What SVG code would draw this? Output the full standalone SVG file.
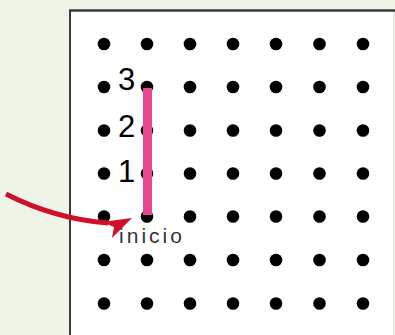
<svg xmlns="http://www.w3.org/2000/svg" width="395" height="335" viewBox="0 0 395 335">
<style>
.dot{fill:#000}
.num{font-family:"Liberation Sans",Arial,sans-serif;font-size:31px;fill:#000}
.lbl{font-family:"Liberation Sans",Arial,sans-serif;font-size:21px;fill:#333}
</style>
<rect x="0" y="0" width="395" height="335" fill="#eff4e8"/>
<g id="frame">
<rect x="69" y="10" width="325" height="330" fill="#fff"/>
<line x1="393.5" y1="10" x2="393.5" y2="335" stroke="#e4e4e4" stroke-width="1"/>
<line x1="69" y1="10.5" x2="395" y2="10.5" stroke="#3a3a3a" stroke-width="2.5"/>
<line x1="70" y1="10" x2="70" y2="335" stroke="#3a3a3a" stroke-width="2"/>
</g>
<g id="dots">
<g id="row1"><circle class="dot" cx="104" cy="44" r="6.3"/><circle class="dot" cx="147" cy="44" r="6.3"/><circle class="dot" cx="190" cy="44" r="6.3"/><circle class="dot" cx="233" cy="44" r="6.3"/><circle class="dot" cx="276" cy="44" r="6.3"/><circle class="dot" cx="319.5" cy="44" r="6.3"/><circle class="dot" cx="363" cy="44" r="6.3"/></g>
<g id="row2"><circle class="dot" cx="104" cy="87" r="6.3"/><circle class="dot" cx="147" cy="87" r="6.3"/><circle class="dot" cx="190" cy="87" r="6.3"/><circle class="dot" cx="233" cy="87" r="6.3"/><circle class="dot" cx="276" cy="87" r="6.3"/><circle class="dot" cx="319.5" cy="87" r="6.3"/><circle class="dot" cx="363" cy="87" r="6.3"/></g>
<g id="row3"><circle class="dot" cx="104" cy="130.5" r="6.3"/><circle class="dot" cx="147" cy="130.5" r="6.3"/><circle class="dot" cx="190" cy="130.5" r="6.3"/><circle class="dot" cx="233" cy="130.5" r="6.3"/><circle class="dot" cx="276" cy="130.5" r="6.3"/><circle class="dot" cx="319.5" cy="130.5" r="6.3"/><circle class="dot" cx="363" cy="130.5" r="6.3"/></g>
<g id="row4"><circle class="dot" cx="104" cy="173.5" r="6.3"/><circle class="dot" cx="147" cy="173.5" r="6.3"/><circle class="dot" cx="190" cy="173.5" r="6.3"/><circle class="dot" cx="233" cy="173.5" r="6.3"/><circle class="dot" cx="276" cy="173.5" r="6.3"/><circle class="dot" cx="319.5" cy="173.5" r="6.3"/><circle class="dot" cx="363" cy="173.5" r="6.3"/></g>
<g id="row5"><circle class="dot" cx="104" cy="216.5" r="6.3"/><circle class="dot" cx="147" cy="216.5" r="6.3"/><circle class="dot" cx="190" cy="216.5" r="6.3"/><circle class="dot" cx="233" cy="216.5" r="6.3"/><circle class="dot" cx="276" cy="216.5" r="6.3"/><circle class="dot" cx="319.5" cy="216.5" r="6.3"/><circle class="dot" cx="363" cy="216.5" r="6.3"/></g>
<g id="row6"><circle class="dot" cx="104" cy="260" r="6.3"/><circle class="dot" cx="147" cy="260" r="6.3"/><circle class="dot" cx="190" cy="260" r="6.3"/><circle class="dot" cx="233" cy="260" r="6.3"/><circle class="dot" cx="276" cy="260" r="6.3"/><circle class="dot" cx="319.5" cy="260" r="6.3"/><circle class="dot" cx="363" cy="260" r="6.3"/></g>
<g id="row7"><circle class="dot" cx="104" cy="303.5" r="6.3"/><circle class="dot" cx="147" cy="303.5" r="6.3"/><circle class="dot" cx="190" cy="303.5" r="6.3"/><circle class="dot" cx="233" cy="303.5" r="6.3"/><circle class="dot" cx="276" cy="303.5" r="6.3"/><circle class="dot" cx="319.5" cy="303.5" r="6.3"/><circle class="dot" cx="363" cy="303.5" r="6.3"/></g>
</g>
<g id="path-line">
<line x1="147.5" y1="88" x2="147.5" y2="215" stroke="#e8488e" stroke-width="9"/>
</g>
<g id="labels">
<text class="num" x="118" y="90">3</text>
<text class="num" x="118" y="137">2</text>
<text class="num" x="118" y="182">1</text>
<text class="lbl" x="119" y="243" textLength="63" lengthAdjust="spacing">inicio</text>
</g>
<g id="connectors">
<path d="M6,194 Q55,219 108,223" fill="none" stroke="#d0102a" stroke-width="5"/>
<polygon points="132,218 112,238 114,227 102,222" fill="#d0102a"/>
</g>
</svg>
